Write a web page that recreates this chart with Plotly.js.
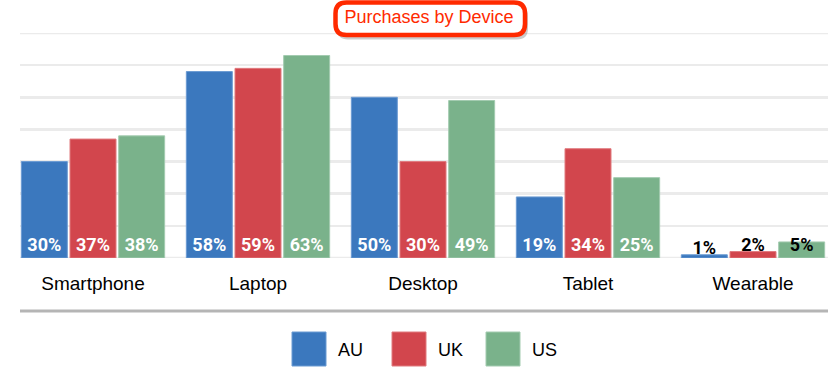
<!DOCTYPE html>
<html>
<head>
<meta charset="utf-8">
<script src="https://cdn.plot.ly/plotly-3.0.1.min.js"></script>
<style>
  html, body { margin: 0; padding: 0; background: #ffffff; }
  #chart { width: 836px; height: 375px; }
</style>
</head>
<body>
<div id="chart"></div>
<script>
// ---- data ----
var categories = ["Smartphone", "Laptop", "Desktop", "Tablet", "Wearable"];
var seriesNames = ["AU", "UK", "US"];
var auValues = [30, 58, 50, 19, 1];
var ukValues = [37, 59, 30, 34, 2];
var usValues = [38, 63, 49, 25, 5];
var chartTitle = "Purchases by Device";

// ---- styles ----
var fills = ["#3b78be", "#d2464d", "#7ab28b"];
var edges = ["#6b9bd3", "#e07a7f", "#a3cbb0"];
var seriesValues = [auValues, ukValues, usValues];

// geometry of the plot area in pixels
var W = 836, H = 375;
var L = 20, R = 8, T = 33, B = 117;
var plotW = W - L - R, plotH = H - T - B;
function px2x(px) { return (px - L) / plotW; }
function px2y(py) { return (H - B - py) / plotH; }

var traces = seriesNames.map(function (name, i) {
  var vals = seriesValues[i];
  return {
    type: "bar",
    name: name,
    x: categories,
    y: vals,
    text: vals.map(function (v) { return v + "%"; }),
    textposition: "inside",
    insidetextanchor: "start",
    constraintext: "none",
    cliponaxis: false,
    textangle: 0,
    insidetextfont: {
      family: "Roboto, Lato, sans-serif",
      size: 18,
      weight: "bold",
      color: vals.map(function (v) { return v < 10 ? "#000000" : "#ffffff"; })
    },
    marker: { color: fills[i], line: { color: edges[i], width: 1 } },
    hoverinfo: "skip"
  };
});

// manual legend (large swatches), built from the series names
var legendShapes = [], legendAnn = [];
var swatchX = [292, 392, 486];
seriesNames.forEach(function (name, i) {
  var x0 = swatchX[i];
  legendShapes.push({
    type: "rect", xref: "paper", yref: "paper", layer: "above",
    x0: px2x(x0), x1: px2x(x0 + 34), y0: px2y(366), y1: px2y(332),
    fillcolor: fills[i], line: { color: edges[i], width: 1 }
  });
  legendAnn.push({
    xref: "paper", yref: "paper", x: px2x(x0 + 44), y: px2y(350),
    xanchor: "left", yanchor: "middle", showarrow: false,
    text: name,
    font: { family: "Liberation Sans, Arial, sans-serif", size: 18, color: "#000000" }
  });
});

// rounded title box
function roundedRect(x0, y0, x1, y1, r) {
  var rx = r / plotW, ry = r / plotH;
  var X0 = px2x(x0), X1 = px2x(x1), Y0 = px2y(y0), Y1 = px2y(y1); // Y0 top (larger)
  return "M" + (X0 + rx) + "," + Y0 +
    " L" + (X1 - rx) + "," + Y0 +
    " Q" + X1 + "," + Y0 + " " + X1 + "," + (Y0 - ry) +
    " L" + X1 + "," + (Y1 + ry) +
    " Q" + X1 + "," + Y1 + " " + (X1 - rx) + "," + Y1 +
    " L" + (X0 + rx) + "," + Y1 +
    " Q" + X0 + "," + Y1 + " " + X0 + "," + (Y1 + ry) +
    " L" + X0 + "," + (Y0 - ry) +
    " Q" + X0 + "," + Y0 + " " + (X0 + rx) + "," + Y0 + " Z";
}

var shapes = [
  // edge gridlines (top at 70 and baseline at 0)
  { type: "line", xref: "paper", yref: "y", layer: "below",
    x0: 0, x1: 1, y0: 70, y1: 70, line: { color: "#ebebeb", width: 2.5 } },
  { type: "line", xref: "paper", yref: "y", layer: "below",
    x0: 0, x1: 1, y0: 0, y1: 0, line: { color: "#ebebeb", width: 2.5 } },
  // separator line
  { type: "line", xref: "paper", yref: "paper", layer: "above",
    x0: 0, x1: 1, y0: px2y(311), y1: px2y(311),
    line: { color: "#b5b5b5", width: 3 } },
  // title shadow
  { type: "path", xref: "paper", yref: "paper", layer: "above",
    path: roundedRect(337, 5, 528, 39.5, 11),
    fillcolor: "rgba(0,0,0,0.2)", line: { width: 0 } },
  // title box
  { type: "path", xref: "paper", yref: "paper", layer: "above",
    path: roundedRect(335.5, 2.5, 525, 35, 11),
    fillcolor: "#ffffff", line: { color: "#ff2a00", width: 4.5 } }
].concat(legendShapes);

var layout = {
  width: W, height: H,
  margin: { l: L, r: R, t: T, b: B, pad: 0 },
  paper_bgcolor: "#ffffff",
  plot_bgcolor: "#ffffff",
  showlegend: false,
  barmode: "group",
  bargap: 0.115,
  bargroupgap: 0.055,
  title: {
    text: chartTitle,
    font: { family: "Liberation Sans, Arial, sans-serif", size: 18, color: "#ff2a00" },
    xref: "paper", x: px2x(429), xanchor: "center",
    yref: "container", y: 1 - 16.5 / H, yanchor: "middle"
  },
  xaxis: {
    type: "category",
    range: [(L - 93) / 165, (W - R - 93) / 165],
    showgrid: false, zeroline: false, showline: false,
    ticks: "", ticklabelstandoff: 12,
    tickfont: { family: "Liberation Sans, Arial, sans-serif", size: 19, color: "#000000" },
    fixedrange: true
  },
  yaxis: {
    range: [0, 70],
    dtick: 10,
    showgrid: true, gridcolor: "#ebebeb", gridwidth: 2.5,
    zeroline: false, showline: false, showticklabels: false, ticks: "",
    fixedrange: true
  },
  shapes: shapes,
  annotations: legendAnn
};

Plotly.newPlot("chart", traces, layout, { displayModeBar: false, staticPlot: true });
</script>
</body>
</html>
